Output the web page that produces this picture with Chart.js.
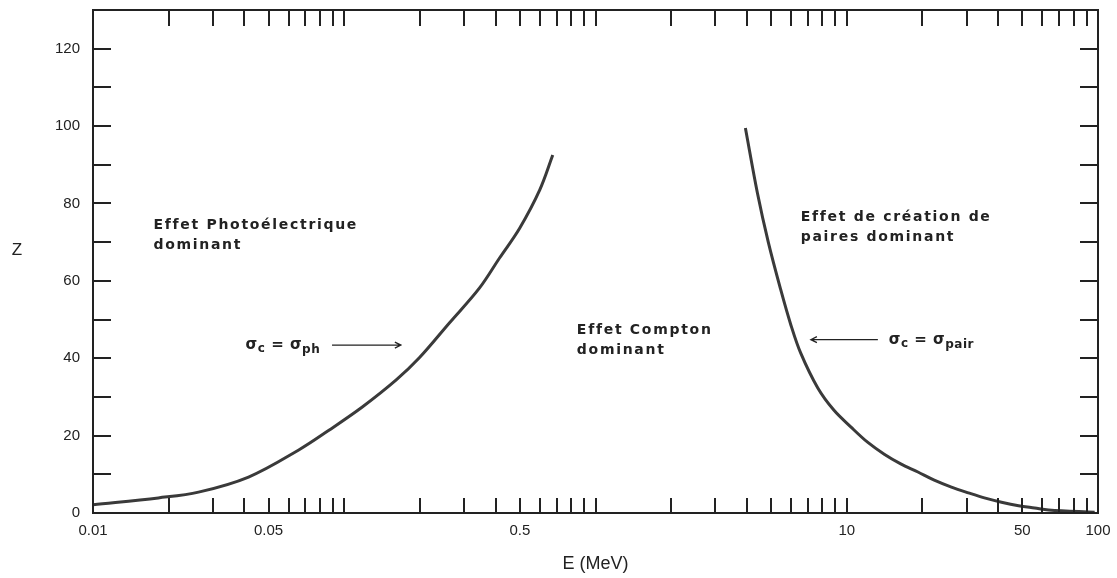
<!DOCTYPE html>
<html>
<head>
<meta charset="utf-8">
<script src="https://cdn.jsdelivr.net/npm/chart.js@4.4.1/dist/chart.umd.min.js"></script>
<style>
  html, body { margin: 0; background: #fff; }
  canvas { display: block; }
</style>
</head>
<body>
<canvas id="zChart" width="1117" height="578"></canvas>
<script>
// boundary sigma_c = sigma_ph  (E in MeV, Z)
const photoE = [0.01, 0.0182, 0.0263, 0.0416, 0.0659, 0.0869, 0.118, 0.161, 0.199, 0.262, 0.345, 0.415, 0.499, 0.600, 0.676];
const photoZ = [2.1, 3.9, 5.4, 9.3, 16.3, 21.4, 27.4, 34.4, 40.1, 49.1, 58.1, 65.9, 73.6, 83.5, 92.5];

// boundary sigma_c = sigma_pair
const pairE = [3.95, 4.41, 4.88, 5.45, 5.98, 6.56, 7.67, 8.88, 10.4, 12.1, 14.1, 16.4, 19.2, 22.3, 26.1, 30.5, 35.3, 41.3, 48.3, 56.0, 63.6, 97];
const pairZ = [99.5, 82.7, 69.8, 57.9, 48.8, 41.3, 32.3, 26.6, 22.2, 18.3, 15.2, 12.7, 10.6, 8.5, 6.7, 5.2, 3.9, 2.8, 1.9, 1.3, 0.8, 0.2];

const xTickLabels = [0.01, 0.05, 0.5, 10, 50, 100];
const yTickLabels = [0, 20, 40, 60, 80, 100, 120];
const xMinorTicks = [0.02, 0.03, 0.04, 0.05, 0.06, 0.07, 0.08, 0.09, 0.1,
                     0.2, 0.3, 0.4, 0.5, 0.6, 0.7, 0.8, 0.9, 1,
                     2, 3, 4, 5, 6, 7, 8, 9, 10,
                     20, 30, 40, 50, 60, 70, 80, 90];
const yMinorTicks = [10, 20, 30, 40, 50, 60, 70, 80, 90, 100, 110, 120];

const INK = "#222";
const CURVE = "#3a3a3a";
const SANS = "'Liberation Sans', Arial, sans-serif";
const LABEL_FONT = "bold 14px 'DejaVu Sans', sans-serif";

// text placed in data coordinates (E, Z)
const regionLabels = [
  { e: 0.0174, z: 74.4, lines: ["Effet Photoélectrique", "dominant"] },
  { e: 0.843, z: 47.3, lines: ["Effet Compton", "dominant"] },
  { e: 6.56, z: 76.5, lines: ["Effet de création de", "paires dominant"] }
];
const equalLabels = [
  { e: 0.0405, z: 43.4, sub: "ph", arrowFrom: 0.0894, arrowTo: 0.168 },
  { e: 14.7, z: 44.8, sub: "pair", arrowFrom: 13.3, arrowTo: 7.2 }
];

function toPts(xs, ys) {
  return xs.map((x, i) => ({ x: x, y: ys[i] }));
}

function drawArrow(ctx, x1, x2, y) {
  const dir = Math.sign(x2 - x1);
  ctx.beginPath();
  ctx.moveTo(x1, y);
  ctx.lineTo(x2, y);
  ctx.moveTo(x2 - dir * 6, y - 3);
  ctx.lineTo(x2, y);
  ctx.lineTo(x2 - dir * 6, y + 3);
  ctx.stroke();
}

function drawSigmaEq(ctx, x, y, sub) {
  const big = "bold 15px 'DejaVu Sans', sans-serif";
  const small = "bold 12px 'DejaVu Sans', sans-serif";
  let cx = x;
  const part = (txt, font, dy) => {
    ctx.font = font;
    ctx.fillText(txt, cx, y + dy);
    cx += ctx.measureText(txt).width;
  };
  part("σ", big, 0);
  part("c", small, 4);
  part(" = ", big, 0);
  part("σ", big, 0);
  part(sub, small, 5);
}

const framePlugin = {
  id: "frame",
  afterDatasetsDraw(chart) {
    const { ctx, chartArea: a, scales } = chart;
    const xs = scales.x, ys = scales.y;
    ctx.save();
    ctx.strokeStyle = INK;
    ctx.lineWidth = 2;
    ctx.strokeRect(a.left, a.top, a.right - a.left, a.bottom - a.top);

    // inward ticks on all four sides
    ctx.beginPath();
    xMinorTicks.forEach(v => {
      const px = Math.round(xs.getPixelForValue(v));
      ctx.moveTo(px, a.bottom);
      ctx.lineTo(px, a.bottom - 15);
      ctx.moveTo(px, a.top);
      ctx.lineTo(px, a.top + 16);
    });
    yMinorTicks.forEach(v => {
      const py = Math.round(ys.getPixelForValue(v));
      ctx.moveTo(a.left, py);
      ctx.lineTo(a.left + 18, py);
      ctx.moveTo(a.right, py);
      ctx.lineTo(a.right - 18, py);
    });
    ctx.stroke();

    // axis title Z (upright)
    ctx.fillStyle = INK;
    ctx.font = "17px " + SANS;
    ctx.textAlign = "center";
    ctx.textBaseline = "middle";
    ctx.fillText("Z", 17, ys.getPixelForValue(68));

    // region labels
    ctx.textAlign = "left";
    ctx.font = LABEL_FONT;
    if ("letterSpacing" in ctx) ctx.letterSpacing = "1.7px";
    regionLabels.forEach(l => {
      const px = xs.getPixelForValue(l.e);
      const py = ys.getPixelForValue(l.z);
      l.lines.forEach((t, i) => ctx.fillText(t, px, py + i * 20));
    });
    if ("letterSpacing" in ctx) ctx.letterSpacing = "0.5px";

    // sigma equalities with arrows
    equalLabels.forEach(l => {
      const py = ys.getPixelForValue(l.z);
      drawSigmaEq(ctx, xs.getPixelForValue(l.e), py, l.sub);
      ctx.lineWidth = 1.3;
      drawArrow(ctx, xs.getPixelForValue(l.arrowFrom), xs.getPixelForValue(l.arrowTo), py);
    });
    ctx.restore();
  }
};

new Chart(document.getElementById("zChart"), {
  type: "scatter",
  data: {
    datasets: [
      { label: "σc = σph", data: toPts(photoE, photoZ) },
      { label: "σc = σpair", data: toPts(pairE, pairZ) }
    ]
  },
  options: {
    responsive: false,
    animation: false,
    showLine: true,
    layout: { padding: { top: 10, right: 19, left: 0, bottom: 0 } },
    elements: {
      point: { radius: 0 },
      line: { borderColor: CURVE, borderWidth: 3, tension: 0.35, fill: false }
    },
    plugins: { legend: { display: false }, tooltip: { enabled: false } },
    scales: {
      x: {
        type: "logarithmic",
        min: 0.01,
        max: 100,
        grid: { display: false, drawTicks: false },
        border: { display: false },
        afterBuildTicks: s => { s.ticks = xTickLabels.map(v => ({ value: v })); },
        afterFit: s => { s.height = 65; s.paddingLeft = 0; s.paddingRight = 0; },
        ticks: {
          padding: 9,
          color: INK,
          maxRotation: 0,
          autoSkip: false,
          font: { family: SANS, size: 15 },
          callback: v => String(v)
        },
        title: {
          display: true,
          text: "E (MeV)",
          color: INK,
          padding: { top: 0, bottom: 3 },
          font: { family: SANS, size: 18 }
        }
      },
      y: {
        min: 0,
        max: 130,
        grid: { display: false, drawTicks: false },
        border: { display: false },
        afterBuildTicks: s => { s.ticks = yTickLabels.map(v => ({ value: v })); },
        afterFit: s => { s.width = 93; s.paddingTop = 0; s.paddingBottom = 0; },
        ticks: {
          padding: 13,
          color: INK,
          font: { family: SANS, size: 15 }
        }
      }
    }
  },
  plugins: [framePlugin]
});
</script>
</body>
</html>
